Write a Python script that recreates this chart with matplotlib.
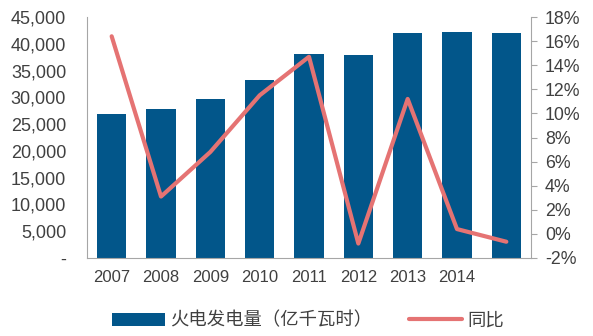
import matplotlib.pyplot as plt
import numpy as np

years = ['2007', '2008', '2009', '2010', '2011', '2012', '2013', '2014', '']
output = [26900, 27900, 29700, 33200, 38000, 37900, 41950, 42200, 41950]
growth = [16.4, 3.1, 6.8, 11.5, 14.7, -0.8, 11.2, 0.4, -0.65]

bar_color = '#02568a'
line_color = '#e57373'
text_color = '#404040'
axis_color = '#a6a6a6'

plt.rcParams['font.family'] = ['Liberation Sans', 'Noto Sans CJK SC', 'DejaVu Sans']

fig = plt.figure(figsize=(5.93, 3.36), dpi=100)
ax = fig.add_axes([87 / 593, 1 - 258 / 336, 444 / 593, 241 / 336])
x = np.arange(len(years))

bars = ax.bar(x, output, width=0.6, color=bar_color, label='火电发电量（亿千瓦时）', zorder=2)
ax.set_xlim(-0.5, len(years) - 0.5)
ax.set_ylim(0, 45000)
ax.set_yticks(np.arange(0, 45001, 5000))
ax.set_yticklabels(['-'] + [f'{v:,}' for v in range(5000, 45001, 5000)])
ax.set_xticks(x)
ax.set_xticklabels(years)
ax.tick_params(axis='y', length=0, labelsize=13, colors=text_color, pad=15)
ax.tick_params(axis='x', length=0, labelsize=12, colors=text_color, pad=9)
for side in ['top', 'right']:
    ax.spines[side].set_visible(False)
for side in ['left', 'bottom']:
    ax.spines[side].set_color(axis_color)

ax2 = ax.twinx()
line, = ax2.plot(x, growth, color=line_color, lw=3, label='同比', solid_capstyle='round', zorder=3)
ax2.set_ylim(-2, 18)
ax2.set_yticks(np.arange(-2, 19, 2))
ax2.set_yticklabels([f'{v}%' for v in range(-2, 19, 2)])
ax2.tick_params(axis='y', direction='out', length=4, labelsize=12.8,
                colors=text_color, pad=6)
ax2.tick_params(axis='y', color=axis_color)
for side in ['top', 'left', 'bottom']:
    ax2.spines[side].set_visible(False)
ax2.spines['right'].set_color(axis_color)

fig.legend(handles=[bars, line], loc='center', bbox_to_anchor=(308 / 593, 1 - 321 / 336),
           ncol=2, frameon=False, fontsize=13.2, handlelength=2.9, handleheight=0.75,
           columnspacing=2.0, handletextpad=0.3, labelcolor=text_color)

fig.savefig('out.png', dpi=100)
